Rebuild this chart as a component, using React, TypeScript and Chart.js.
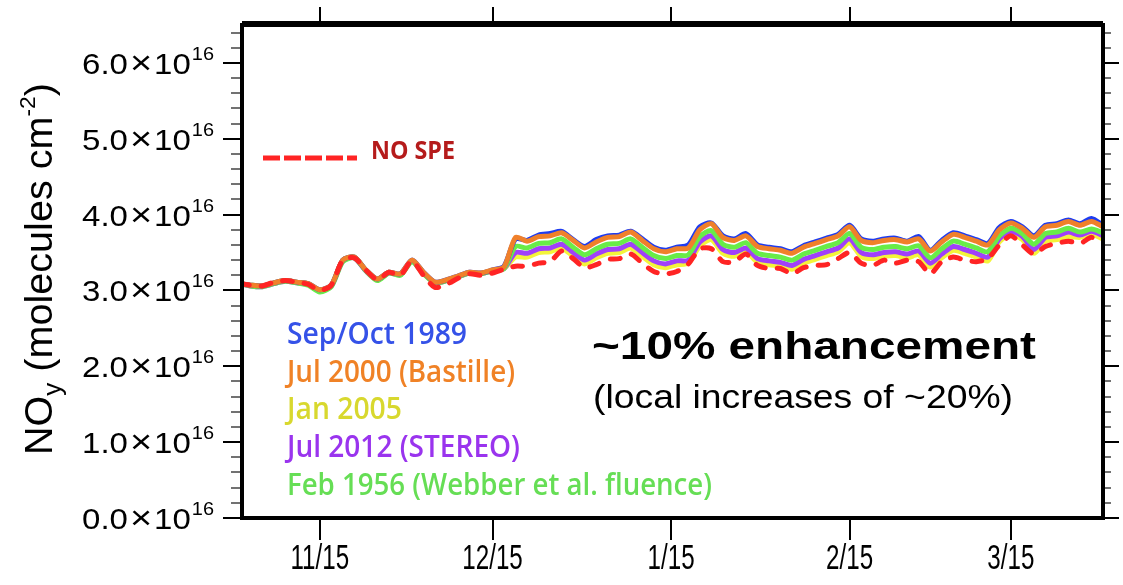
import React, { useEffect, useRef } from "react";
import { Chart, registerables } from "chart.js";

Chart.register(...registerables);

// Day index counted from 1 November (model days, every second day)
const days = [
  0, 2, 4, 6, 8, 10, 12, 14, 16, 18,
  20, 22, 24, 26, 28, 30, 32, 34, 36, 38,
  40, 42, 44, 46, 48, 50, 52, 54, 56, 58,
  60, 62, 64, 66, 68, 70, 72, 74, 76, 78,
  80, 82, 84, 86, 88, 90, 92, 94, 96, 98,
  100, 102, 104, 106, 108, 110, 112, 114, 116, 118,
  120, 122, 124, 126, 128, 130, 132, 134, 136, 138,
  140, 142, 144, 146, 148, 150,
];

// NOy column, units of 1e16 molecules cm^-2
const sepOct1989 = [
  3.09, 3.07, 3.06, 3.10, 3.13, 3.11, 3.09, 3.01, 3.07, 3.40,
  3.44, 3.27, 3.15, 3.24, 3.22, 3.40, 3.24, 3.11, 3.14, 3.19,
  3.24, 3.23, 3.27, 3.32, 3.68, 3.66, 3.73, 3.75, 3.78, 3.67,
  3.58, 3.67, 3.72, 3.73, 3.78, 3.68, 3.57, 3.53, 3.57, 3.60,
  3.84, 3.89, 3.72, 3.68, 3.75, 3.60, 3.57, 3.55, 3.51, 3.59,
  3.64, 3.69, 3.74, 3.86, 3.68, 3.65, 3.68, 3.69, 3.65, 3.71,
  3.53, 3.66, 3.76, 3.72, 3.67, 3.62, 3.83, 3.91, 3.84, 3.72,
  3.86, 3.88, 3.93, 3.88, 3.95, 3.86,
];
const jul2000 = [
  3.09, 3.07, 3.06, 3.10, 3.13, 3.11, 3.09, 3.01, 3.07, 3.40,
  3.44, 3.27, 3.15, 3.24, 3.22, 3.40, 3.24, 3.11, 3.14, 3.19,
  3.24, 3.23, 3.27, 3.31, 3.70, 3.65, 3.71, 3.72, 3.76, 3.66,
  3.56, 3.64, 3.70, 3.71, 3.77, 3.66, 3.55, 3.51, 3.55, 3.56,
  3.80, 3.88, 3.70, 3.66, 3.72, 3.58, 3.55, 3.53, 3.49, 3.57,
  3.62, 3.67, 3.72, 3.84, 3.66, 3.63, 3.66, 3.67, 3.64, 3.68,
  3.52, 3.64, 3.74, 3.70, 3.65, 3.60, 3.80, 3.89, 3.82, 3.70,
  3.84, 3.86, 3.91, 3.86, 3.91, 3.84,
];
const jan2005 = [
  3.09, 3.07, 3.06, 3.10, 3.13, 3.11, 3.09, 3.00, 3.07, 3.40,
  3.44, 3.27, 3.15, 3.24, 3.21, 3.39, 3.23, 3.10, 3.13, 3.18,
  3.23, 3.22, 3.26, 3.29, 3.44, 3.44, 3.50, 3.51, 3.56, 3.45,
  3.35, 3.43, 3.49, 3.50, 3.56, 3.45, 3.34, 3.30, 3.34, 3.36,
  3.59, 3.67, 3.49, 3.45, 3.51, 3.37, 3.34, 3.32, 3.28, 3.36,
  3.41, 3.46, 3.51, 3.63, 3.45, 3.42, 3.45, 3.46, 3.43, 3.47,
  3.31, 3.43, 3.53, 3.49, 3.44, 3.39, 3.64, 3.74, 3.67, 3.49,
  3.65, 3.67, 3.71, 3.70, 3.74, 3.68,
];
const jul2012 = [
  3.09, 3.06, 3.05, 3.09, 3.12, 3.10, 3.08, 2.99, 3.06, 3.39,
  3.43, 3.26, 3.14, 3.23, 3.21, 3.39, 3.23, 3.10, 3.13, 3.18,
  3.23, 3.22, 3.26, 3.29, 3.50, 3.49, 3.55, 3.56, 3.61, 3.50,
  3.40, 3.48, 3.54, 3.55, 3.61, 3.50, 3.39, 3.35, 3.39, 3.40,
  3.64, 3.72, 3.54, 3.50, 3.56, 3.42, 3.39, 3.37, 3.33, 3.41,
  3.46, 3.51, 3.56, 3.68, 3.50, 3.47, 3.50, 3.51, 3.48, 3.52,
  3.36, 3.48, 3.58, 3.54, 3.49, 3.44, 3.68, 3.78, 3.71, 3.54,
  3.70, 3.72, 3.77, 3.73, 3.78, 3.72,
];
const feb1956 = [
  3.09, 3.06, 3.05, 3.09, 3.12, 3.10, 3.07, 2.98, 3.05, 3.38,
  3.43, 3.26, 3.13, 3.23, 3.20, 3.38, 3.22, 3.10, 3.13, 3.18,
  3.23, 3.22, 3.26, 3.29, 3.58, 3.56, 3.62, 3.63, 3.68, 3.57,
  3.47, 3.55, 3.61, 3.62, 3.68, 3.57, 3.46, 3.42, 3.46, 3.47,
  3.71, 3.79, 3.61, 3.57, 3.63, 3.49, 3.46, 3.44, 3.40, 3.48,
  3.53, 3.58, 3.63, 3.75, 3.57, 3.54, 3.57, 3.58, 3.55, 3.59,
  3.43, 3.55, 3.65, 3.61, 3.56, 3.51, 3.72, 3.82, 3.75, 3.61,
  3.75, 3.77, 3.82, 3.77, 3.81, 3.76,
];
const noSpe = [
  3.09, 3.07, 3.06, 3.11, 3.13, 3.11, 3.08, 3.00, 3.07, 3.40,
  3.43, 3.27, 3.14, 3.24, 3.20, 3.39, 3.20, 3.04, 3.08, 3.16,
  3.22, 3.20, 3.23, 3.28, 3.32, 3.32, 3.36, 3.38, 3.52, 3.42,
  3.30, 3.34, 3.41, 3.42, 3.48, 3.36, 3.25, 3.22, 3.25, 3.35,
  3.55, 3.55, 3.38, 3.38, 3.48, 3.33, 3.29, 3.29, 3.22, 3.30,
  3.33, 3.34, 3.42, 3.50, 3.36, 3.33, 3.40, 3.36, 3.40, 3.38,
  3.22, 3.38, 3.44, 3.40, 3.38, 3.42, 3.60, 3.72, 3.60, 3.48,
  3.58, 3.62, 3.65, 3.62, 3.70, 3.64,
];

const eventLabels = [
  "Sep/Oct 1989",
  "Jul 2000 (Bastille)",
  "Jan 2005",
  "Jul 2012 (STEREO)",
  "Feb 1956 (Webber et al. fluence)",
];
const eventSeries = [sepOct1989, jul2000, jan2005, jul2012, feb1956];
const eventLineColors = ["#1e3cf0", "#f0802a", "#f4f43a", "#a040fa", "#68ec48"];
const eventTextColors = ["#3552e8", "#f08226", "#d8d82e", "#9a34ee", "#66de55"];
// stacking of the curves (lower number drawn on top)
const eventOrder = [2, 1, 5, 4, 3];

const baselineLabel = "NO SPE";
const baselineColor = "#ff2424";
const baselineTextColor = "#b51b1b";

const dateTickDays = [14, 44, 75, 106, 134];
const dateTickLabels = ["11/15", "12/15", "1/15", "2/15", "3/15"];
const yMajorTicks = [0, 1, 2, 3, 4, 5, 6];
const yTickMantissas = ["0.0", "1.0", "2.0", "3.0", "4.0", "5.0", "6.0"];
const yTickExponent = "16";

const headline = "~10% enhancement";
const subline = "(local increases of ~20%)";

const SANS = '"Liberation Sans", Arial, Helvetica, sans-serif';
const LEGEND_SANS = '"Open Sans", "Noto Sans", sans-serif';
// rendered widths of the legend lines
const legendWidths = [180, 228, 115, 233, 425];

type Ctx = CanvasRenderingContext2D;

// draws text horizontally scaled by sx; returns drawn width
function drawScaled(ctx: Ctx, text: string, x: number, y: number, sx: number, align: "left" | "center" | "right" = "left") {
  const w = ctx.measureText(text).width * sx;
  let left = x;
  if (align === "center") left = x - w / 2;
  else if (align === "right") left = x - w;
  ctx.save();
  ctx.translate(left, y);
  ctx.scale(sx, 1);
  ctx.textAlign = "left";
  ctx.textBaseline = "alphabetic";
  ctx.fillText(text, 0, 0);
  ctx.restore();
  return w;
}

// draws text squeezed/stretched to a given width
function drawFitted(ctx: Ctx, text: string, x: number, y: number, width: number) {
  const w = ctx.measureText(text).width;
  drawScaled(ctx, text, x, y, width / w, "left");
}

const nclDecor = {
  id: "nclDecor",
  afterDatasetsDraw(chart: any) {
    const ctx: Ctx = chart.ctx;
    const a = chart.chartArea;
    const xs = chart.scales.x;
    const ys = chart.scales.y;
    ctx.save();
    ctx.strokeStyle = "#000";
    ctx.fillStyle = "#000";

    // y tick marks (major every 1, minor every 0.2), both sides
    for (let i = 0; i <= 32; i++) {
      const v = i * 0.2;
      const py = Math.round(ys.getPixelForValue(v));
      const major = i % 5 === 0;
      ctx.lineWidth = major ? 2 : 1.6;
      ctx.strokeStyle = major ? "#000" : "#444";
      ctx.beginPath();
      ctx.moveTo(a.left - (major ? 19 : 11), py);
      ctx.lineTo(a.left, py);
      ctx.moveTo(a.right, py);
      ctx.lineTo(a.right + (major ? 16 : 8), py);
      ctx.stroke();
    }

    // x tick marks, top and bottom
    ctx.strokeStyle = "#000";
    ctx.lineWidth = 2;
    dateTickDays.forEach((d) => {
      const px = Math.round(xs.getPixelForValue(d));
      ctx.beginPath();
      ctx.moveTo(px, a.top);
      ctx.lineTo(px, a.top - 18);
      ctx.moveTo(px, a.bottom);
      ctx.lineTo(px, a.bottom + 22);
      ctx.stroke();
    });

    // plot frame
    ctx.lineWidth = 4;
    ctx.strokeRect(a.left, a.top, a.right - a.left, a.bottom - a.top);
    ctx.lineWidth = 2;
    ctx.beginPath();
    ctx.moveTo(a.left, a.top - 3);
    ctx.lineTo(a.right, a.top - 3);
    ctx.stroke();

    // x tick labels
    ctx.font = `35px ${SANS}`;
    dateTickDays.forEach((d, i) => {
      const px = xs.getPixelForValue(d);
      drawScaled(ctx, dateTickLabels[i], px, a.bottom + 51, 0.69, "center");
    });

    // y tick labels: mantissa x 10^16
    yMajorTicks.forEach((v, i) => {
      const py = ys.getPixelForValue(v);
      const right = 214;
      ctx.font = `19px ${SANS}`;
      const supW = drawScaled(ctx, yTickExponent, right, py - 3, 1.05, "right");
      ctx.font = `30px ${SANS}`;
      let x = right - supW - 1;
      x -= drawScaled(ctx, "10", x, py + 11, 1.1, "right");
      x -= 2;
      ctx.font = `33px ${SANS}`;
      x -= drawScaled(ctx, "\u00d7", x, py + 11, 1.15, "right");
      x -= 2;
      ctx.font = `30px ${SANS}`;
      drawScaled(ctx, yTickMantissas[i], x, py + 11, 1.1, "right");
    });

    // y axis title: NO_y (molecules cm^-2)
    const parts = [
      { t: "NO", s: 38, dy: 0 },
      { t: "y", s: 25, dy: 9 },
      { t: " (molecules cm", s: 38, dy: 0 },
      { t: "-2", s: 22, dy: -17 },
      { t: ")", s: 38, dy: 0 },
    ];
    let total = 0;
    parts.forEach((p) => {
      ctx.font = `${p.s}px ${SANS}`;
      total += ctx.measureText(p.t).width;
    });
    const titleLen = 372;
    const tsx = titleLen / total;
    ctx.save();
    ctx.translate(52, 269);
    ctx.rotate(-Math.PI / 2);
    let tx = -titleLen / 2;
    parts.forEach((p) => {
      ctx.font = `${p.s}px ${SANS}`;
      tx += drawScaled(ctx, p.t, tx, p.dy, tsx, "left");
    });
    ctx.restore();

    // baseline legend entry
    ctx.save();
    ctx.strokeStyle = baselineColor;
    ctx.lineWidth = 5;
    ctx.setLineDash([17, 4]);
    ctx.beginPath();
    ctx.moveTo(263, 158);
    ctx.lineTo(357, 158);
    ctx.stroke();
    ctx.restore();
    ctx.fillStyle = baselineTextColor;
    ctx.font = `700 25px ${LEGEND_SANS}`;
    drawFitted(ctx, baselineLabel, 371, 159, 84);

    // event legend
    ctx.font = `650 30px ${LEGEND_SANS}`;
    eventLabels.forEach((lab, i) => {
      ctx.fillStyle = eventTextColors[i];
      drawFitted(ctx, lab, 287, 344 + i * 37.7, legendWidths[i]);
    });

    // annotation
    ctx.fillStyle = "#000";
    ctx.font = `700 38px ${SANS}`;
    drawFitted(ctx, headline, 592, 359, 444);
    ctx.font = `34px ${SANS}`;
    drawFitted(ctx, subline, 593, 408, 420);

    ctx.restore();
  },
};

export default function App() {
  const canvasRef = useRef<HTMLCanvasElement | null>(null);

  useEffect(() => {
    if (!canvasRef.current) return;
    const toPoints = (vals: number[]) => days.map((d, i) => ({ x: d, y: vals[i] }));

    const datasets: any[] = [
      {
        label: baselineLabel,
        data: toPoints(noSpe),
        borderColor: baselineColor,
        borderWidth: 5,
        borderDash: [10, 12],
        borderCapStyle: "round",
        borderJoinStyle: "round",
        order: 0,
      },
      ...eventLabels.map((lab, i) => ({
        label: lab,
        data: toPoints(eventSeries[i]),
        borderColor: eventLineColors[i],
        borderWidth: 5,
        borderCapStyle: "round",
        borderJoinStyle: "round",
        order: eventOrder[i],
      })),
    ];

    const chart = new Chart(canvasRef.current, {
      type: "line",
      data: { datasets },
      options: {
        responsive: false,
        animation: false,
        devicePixelRatio: 1,
        layout: { padding: { left: 242, right: 20, top: 25, bottom: 67 } },
        plugins: { legend: { display: false }, tooltip: { enabled: false } },
        elements: { point: { radius: 0 }, line: { tension: 0.25 } },
        scales: {
          x: { type: "linear", min: 0.5, max: 150, display: false },
          y: { type: "linear", min: 0, max: 6.5, display: false },
        },
      },
      plugins: [nclDecor],
    });
    return () => chart.destroy();
  }, []);

  return (
    <div style={{ position: "absolute", left: 0, top: 0, width: 1123, height: 585, background: "#fff" }}>
      <canvas ref={canvasRef} width={1123} height={585} />
    </div>
  );
}
